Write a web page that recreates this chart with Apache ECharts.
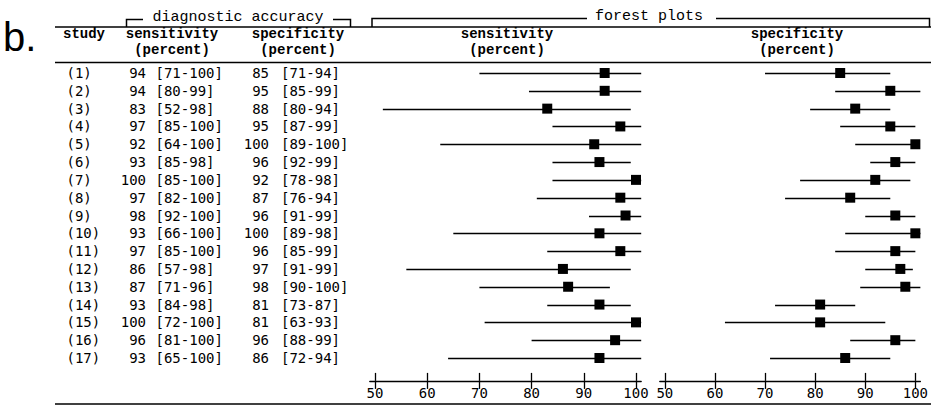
<!DOCTYPE html>
<html>
<head>
<meta charset="utf-8">
<script src="https://cdn.jsdelivr.net/npm/echarts@6/dist/echarts.min.js"></script>
<style>
html,body{margin:0;padding:0;background:#fff;}
#chart{width:931px;height:410px;}
</style>
</head>
<body>
<div id="chart"></div>
<script>
// ---- data ----
var studies = ['(1)','(2)','(3)','(4)','(5)','(6)','(7)','(8)','(9)','(10)','(11)','(12)','(13)','(14)','(15)','(16)','(17)'];
var sens   = [94,94,83,97,92,93,100,97,98,93,97,86,87,93,100,96,93];
var sensLo = [71,80,52,85,64,85,85,82,92,66,85,57,71,84,72,81,65];
var sensHi = [100,99,98,100,100,98,100,100,100,100,100,98,96,98,100,100,100];
var spec   = [85,95,88,95,100,96,92,87,96,100,96,97,98,81,81,96,86];
var specLo = [71,85,80,87,89,92,78,76,91,89,85,91,90,73,63,88,72];
var specHi = [94,99,94,99,100,99,98,94,99,98,99,99,100,87,93,99,94];
// interval ends as drawn in the forest plots
var sensLoPlot = [70,79.5,51.5,84,62.5,84,84,81,91,65,83,56,70,83,71,80,64];
var sensHiPlot = [101,101,99,101,101,99,101,101,101,101,101,99,95,99,101,101,101];
var specLoPlot = [70,84,79,85,88,91,77,74,90,86,84,90,89,72,62,87,71];
var specHiPlot = [95,101,95,100,100,100,99,95,100,101,100,99.5,101,88,94,100,95];
var axisTicks = [50,60,70,80,90,100];

// ---- layout ----
var rowTop = 64.1, rowH = 302.8;
var g0Left = 369.8, g0W = 271.4;
var g1Left = 659.8, g1W = 270.4;
var axMin = 49, axMax = 101;

var chart = echarts.init(document.getElementById('chart'), null, {renderer:'svg'});

var mono = '"DejaVu Sans Mono", monospace';
var hdr = '"Liberation Mono", "Courier New", monospace';

function labelAxis(gridIndex, offset, align, fmt){
  return {
    type:'category', gridIndex:gridIndex, data:studies, inverse:true, position:'left', offset:offset,
    axisLine:{show:false}, axisTick:{show:false}, splitLine:{show:false},
    axisLabel:{show:true, margin:0, align:align, fontFamily:mono, fontSize:14, color:'#000',
      interval:0, formatter:fmt}
  };
}

function xAxes(gridIndex){
  var base = {
    type:'value', gridIndex:gridIndex, min:axMin, max:axMax, position:'bottom', offset:14,
    splitLine:{show:false}
  };
  var a = Object.assign({}, base, {
    axisLine:{show:true, lineStyle:{color:'#000', width:1.3}},
    axisTick:{show:true, customValues:axisTicks, length:8, inside:false, lineStyle:{color:'#000', width:1.3}},
    axisLabel:{show:true, customValues:axisTicks, margin:5, fontFamily:mono, fontSize:14, color:'#000'}
  });
  var b = Object.assign({}, base, {
    axisLine:{show:false},
    axisTick:{show:true, customValues:axisTicks, length:8, inside:true, lineStyle:{color:'#000', width:1.3}},
    axisLabel:{show:false}
  });
  return [a,b];
}

function idxFmt(arr){ return function(v, i){ return arr[i]; }; }
function ciFmt(lo, hi){ return function(v, i){ return '[' + lo[i] + '-' + hi[i] + ']'; }; }

var yAxes = [
  {type:'category', gridIndex:0, data:studies, inverse:true, show:false},
  {type:'category', gridIndex:1, data:studies, inverse:true, show:false},
  labelAxis(0, g0Left - 66.5, 'left', function(v){ return v; }),
  labelAxis(0, g0Left - 146, 'right', idxFmt(sens)),
  labelAxis(0, g0Left - 155.5, 'left', ciFmt(sensLo, sensHi)),
  labelAxis(0, g0Left - 269, 'right', idxFmt(spec)),
  labelAxis(0, g0Left - 281, 'left', ciFmt(specLo, specHi))
];

var xs = xAxes(0).concat(xAxes(1));

function barData(lo, hi){ return lo.map(function(l, i){ return [l, hi[i], i]; }); }
function ptData(v){ return v.map(function(x, i){ return [x, i]; }); }

function errRender(params, api){
  var p1 = api.coord([api.value(0), api.value(2)]);
  var p2 = api.coord([api.value(1), api.value(2)]);
  return {type:'line', shape:{x1:p1[0], y1:Math.round(p1[1])+0.5, x2:p2[0], y2:Math.round(p2[1])+0.5},
    style:{stroke:'#000', lineWidth:1.3}};
}

function textEl(t, x, y, font, align){
  return {type:'text', silent:true, style:{text:t, x:x, y:y, font:font, fill:'#000', align:align||'center', verticalAlign:'middle'}};
}
function lineEl(pts, w){
  return {type:'polyline', silent:true, shape:{points:pts}, style:{stroke:'#000', lineWidth:w||1.5, fill:null}};
}

var hb = 'bold 14px ' + hdr;
var hn = '15px ' + hdr;
var graphics = [
  textEl('b.', 3, 37, '40px "Liberation Sans", Arial, sans-serif', 'left'),
  lineEl([[55,27],[931,27]], 1.6),
  lineEl([[55,62.5],[931,62.5]], 1.6),
  lineEl([[55,404],[931,404]], 1.6),
  lineEl([[126.5,27],[126.5,19.5],[143,19.5]], 1.5),
  lineEl([[333,19.5],[350.5,19.5],[350.5,27]], 1.5),
  textEl('diagnostic accuracy', 238, 17, hn),
  lineEl([[372,27],[372,18.5],[587,18.5]], 1.5),
  lineEl([[716,18.5],[929.5,18.5],[929.5,27]], 1.5),
  textEl('forest plots', 649, 16, hn),
  textEl('study', 84, 34, hb),
  textEl('sensitivity', 172, 34, hb),
  textEl('(percent)', 172, 50, hb),
  textEl('specificity', 298, 34, hb),
  textEl('(percent)', 298, 50, hb),
  textEl('sensitivity', 507, 34, hb),
  textEl('(percent)', 507, 50, hb),
  textEl('specificity', 797, 34, hb),
  textEl('(percent)', 797, 50, hb)
];

var option = {
  animation:false,
  backgroundColor:'#fff',
  grid:[
    {left:g0Left, top:rowTop, width:g0W, height:rowH},
    {left:g1Left, top:rowTop, width:g1W, height:rowH}
  ],
  xAxis: xs,
  yAxis: yAxes,
  series:[
    {type:'custom', xAxisIndex:0, yAxisIndex:0, renderItem:errRender, data:barData(sensLoPlot, sensHiPlot),
      encode:{x:[0,1], y:2}, clip:false, z:2},
    {type:'scatter', xAxisIndex:0, yAxisIndex:0, data:ptData(sens), symbol:'rect', symbolSize:10,
      itemStyle:{color:'#000', opacity:1}, z:3, clip:false},
    {type:'custom', xAxisIndex:2, yAxisIndex:1, renderItem:errRender, data:barData(specLoPlot, specHiPlot),
      encode:{x:[0,1], y:2}, clip:false, z:2},
    {type:'scatter', xAxisIndex:2, yAxisIndex:1, data:ptData(spec), symbol:'rect', symbolSize:10,
      itemStyle:{color:'#000', opacity:1}, z:3, clip:false}
  ],
  graphic: graphics
};
chart.setOption(option);
</script>
</body>
</html>
